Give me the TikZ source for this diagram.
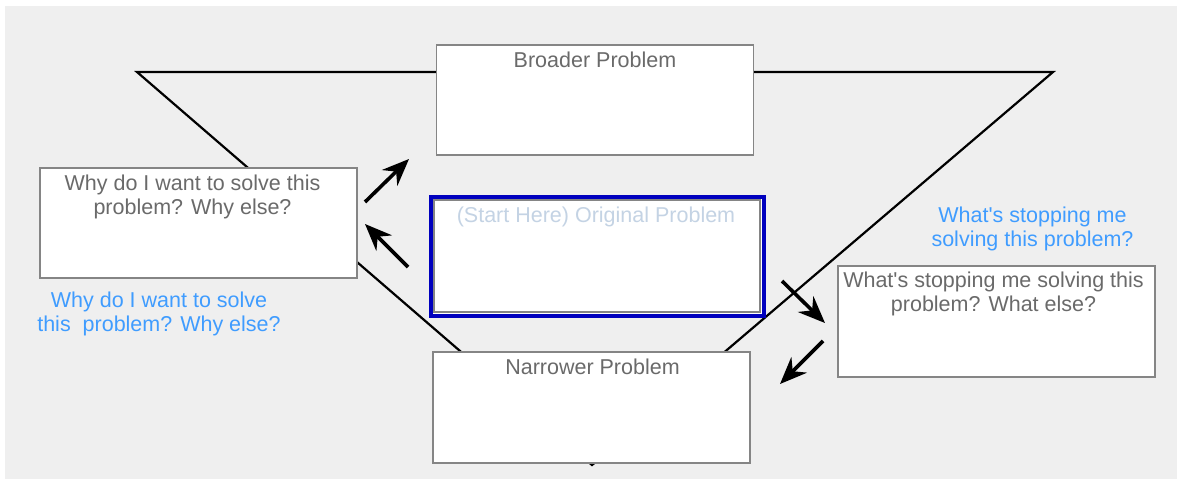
\documentclass[tikz,border=0pt]{standalone}
\usepackage{fontspec}
\setmainfont{Liberation Sans}[Ligatures=TeXOff]
\usetikzlibrary{arrows.meta}
\usetikzlibrary{positioning}

\definecolor{pagegray}{HTML}{EFEFEF}
\definecolor{boxline}{HTML}{858585}
\definecolor{boxtext}{HTML}{6A6A6A}
\definecolor{starttext}{HTML}{C4D3E4}
\definecolor{hintblue}{HTML}{3F9CFF}
\definecolor{frameblue}{HTML}{0000BE}

\tikzset{
  probbox/.style={draw=boxline, line width=1.2pt, fill=white, inner sep=0pt,
    minimum width=317pt, minimum height=110pt},
  boxtext/.style={text=boxtext, font=\fontsize{21.5}{24}\selectfont, align=center,
    anchor=north, inner sep=0pt, execute at begin node={\rule{0pt}{16pt}}},
  hinttext/.style={boxtext, text=hintblue},
  movearrow/.style={line width=3.6pt, -{Stealth[length=27pt,width=22pt,inset=9pt]}},
}

\begin{document}
\begin{tikzpicture}[x=1pt, y=-1pt]
          \useasboundingbox (0,0) rectangle (1177,479);
          \fill [white] (0,0) rectangle (1177,479);
          \fill [pagegray] (5,6) rectangle (1177,479); % grey sheet

          \coordinate (ftl) at (137,72);
          \coordinate (ftr) at (1053,72);
          \coordinate (fbot) at (592,465);
          \draw [line width=2.2pt] (ftl) -- (ftr) -- (fbot) -- cycle; % the funnel

          \node [probbox] (broader) at (595,100) {}; % top box
          \node [boxtext] (broader-t) at ([yshift=-7pt]broader.north) {Broader Problem};

          \node [probbox, draw=frameblue, line width=4pt, minimum width=333pt, minimum height=119pt] (frame) at (597.5,256.5) {}; % blue frame
          \node [probbox, minimum width=326pt, minimum height=112pt] (original) at (597,256) {};
          \node [boxtext, text=starttext] (original-t) at ([xshift=-1pt,yshift=-7pt]original.north) {(Start Here) Original Problem};

          \node [probbox, minimum height=111pt] (narrower) at (591.5,407.5) {}; % bottom box
          \node [boxtext] (narrower-t) at ([xshift=1pt,yshift=-7pt]narrower.north) {Narrower Problem};

          \node [probbox] (why) at (198.5,223) {}; % left box
          \node [boxtext] (why-t) at ([xshift=-6pt,yshift=-7.7pt]why.north) {Why do I want to solve this\\problem? Why else?};

          \node [probbox, minimum height=111pt] (stop) at (996.5,321.5) {}; % right box
          \node [boxtext] (stop-t) at ([xshift=-3pt,yshift=-6.7pt]stop.north) {What's stopping me solving this\\problem? What else?};

          \node [hinttext] (why-hint) at (159,292) {Why do I want to solve\\this\ \ problem? Why else?};
          \node [hinttext] (stop-hint) at (1032.5,207) {What's stopping me\\solving this problem?};

          \coordinate (wideTail) at (365,202);
          \coordinate (wideTip) at (409,159);
          \coordinate (backTail) at (408,267);
          \coordinate (backTip) at (365,224);
          \coordinate (stopTail) at (782,281);
          \coordinate (stopTip) at (825,323);
          \coordinate (narrowTail) at (823,341);
          \coordinate (narrowTip) at (780,384);

          \draw [movearrow] (wideTail) -- (wideTip);
          \draw [movearrow] (backTail) -- (backTip);
          \draw [movearrow] (stopTail) -- (stopTip);
          \draw [movearrow] (narrowTail) -- (narrowTip);
\end{tikzpicture}
\end{document}
